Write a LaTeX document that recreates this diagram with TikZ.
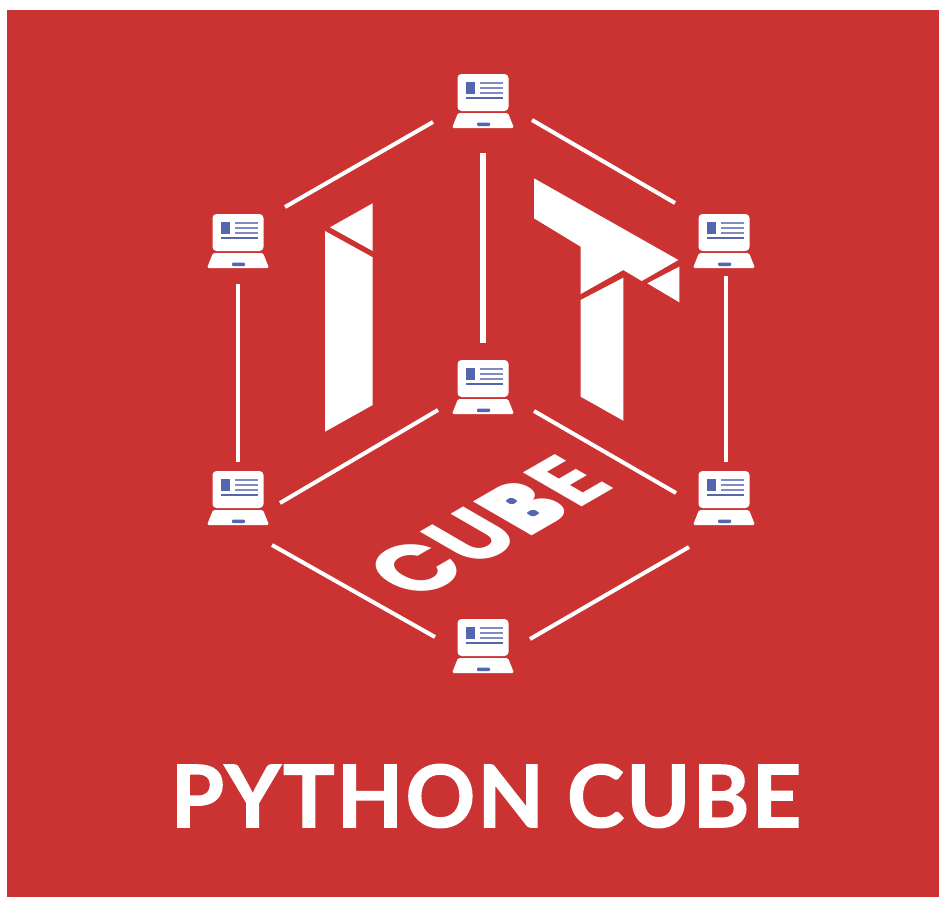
\documentclass[tikz,border=0pt]{standalone}
\usepackage{fontspec}
\newfontfamily\titlefont[BoldFeatures={FakeBold=1.6},LetterSpace=2.8]{Lato}
\newfontfamily\cubefont[LetterSpace=1]{Poppins}
\definecolor{brick}{HTML}{CB3333}
\definecolor{inkblue}{HTML}{5565AE}
\tikzset{
  link/.style={draw=white,line width=4pt,line cap=butt},
  thinlink/.style={draw=white,line width=3.2pt,line cap=butt},
  trunk/.style={draw=white,line width=6pt},
  seat/.style={inner sep=0pt,minimum size=0pt},
  solidwhite/.style={fill=white,draw=none},
  pics/laptop/.style={code={
    \fill[white,rounded corners=4pt] (-25.5,-26) rectangle (25.5,11);
    \fill[inkblue] (-17.5,-18.5) rectangle (-8,-6);
    \foreach \yy in {-17,-12,-7} \fill[inkblue!75!white] (-3,\yy-1) rectangle (19.5,\yy+1);
    \fill[inkblue] (-17.5,-3) rectangle (19.5,-.8);
    \fill[white,rounded corners=1.5pt] (-25,13) -- (25,13) -- (31,28) -- (-31,28) -- cycle;
    \fill[inkblue,rounded corners=1pt] (-6,22.5) rectangle (7,26);
  }}
}
\begin{document}
\begin{tikzpicture}[x=1pt,y=-1pt]
\useasboundingbox (0,0) rectangle (939,897);
\fill[white] (0,0) rectangle (939,897);
\fill[brick] (7,10) rectangle (939,897);
% laptops
\node[seat] (T) at (483,100) {};
\node[seat] (UL) at (238,240) {};
\node[seat] (UR) at (724,240) {};
\node[seat] (C) at (483,386) {};
\node[seat] (LL) at (238,497) {};
\node[seat] (LR) at (724,497) {};
\node[seat] (B) at (483,645) {};
\foreach \n in {T,UL,UR,C,LL,LR,B} \pic at (\n) {laptop};
% connectors
\draw[link] ([shift={(-50,22)}]T.center) -- ([shift={(47,-33)}]UL.center);
\draw[link] ([shift={(49,20)}]T.center) -- ([shift={(-49,-37)}]UR.center);
\draw[trunk] ([shift={(0,53)}]T.center) -- ([shift={(0,-43)}]C.center);
\draw[thinlink] ([shift={(0,44)}]UL.center) -- ([shift={(0,-35)}]LL.center);
\draw[thinlink] ([shift={(2,36)}]UR.center) -- ([shift={(2,-35)}]LR.center);
\draw[link] ([shift={(-45,24)}]C.center) -- ([shift={(42,6)}]LL.center);
\draw[link] ([shift={(51,25)}]C.center) -- ([shift={(-48,-4)}]LR.center);
\draw[link] ([shift={(34,48)}]LL.center) -- ([shift={(-48,-8)}]B.center);
\draw[link] ([shift={(-35,50)}]LR.center) -- ([shift={(47,-6)}]B.center);
% I
\fill[solidwhite] (372.7,203.3) -- (330,227.3) -- (372.7,251) -- cycle;
\fill[solidwhite] (325,231) -- (372.7,257.3) -- (372.7,405) -- (325,431.7) -- cycle;
% T
\fill[solidwhite] (534,178.3) -- (678.3,260) -- (641.7,281) -- (623.3,270) -- (580.7,294) -- (580.7,246.7) -- (534,218.3) -- cycle;
\fill[solidwhite] (679.3,266.7) -- (679.3,302.3) -- (647.3,283.3) -- cycle;
\fill[solidwhite] (623.3,277.7) -- (623.3,420.7) -- (580.7,396.7) -- (580.7,300) -- cycle;
% CUBE on the floor
\node[text=white,font=\cubefont\bfseries\fontsize{88}{88}\selectfont,inner sep=0pt,transform shape,cm={0.84,0.485,-0.95,0.55,(488,527)}] (cubeword) at (0,0) {CUBE};
\fill[solidwhite] (494,503) -- (511,491) -- (552,512) -- (534,526) -- cycle;
\fill[inkblue,rounded corners=2pt] (505,501) -- (511,497) -- (518,501) -- (512,505) -- cycle;
\fill[inkblue,rounded corners=2pt] (526,513) -- (533,509) -- (540,513) -- (533,517) -- cycle;
% title
\node[text=white,font=\titlefont\bfseries\fontsize{86}{86}\selectfont,inner sep=0pt] (title) at (486,796) {PYTHON CUBE};
\end{tikzpicture}
\end{document}
